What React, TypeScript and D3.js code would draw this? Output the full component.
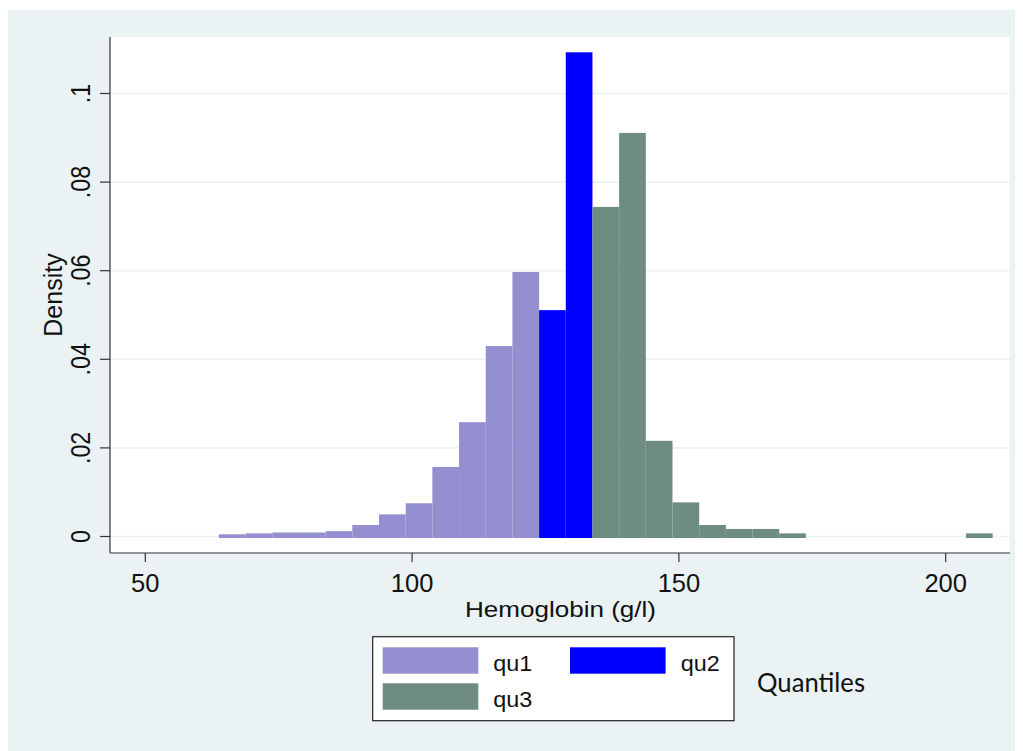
import * as d3 from "d3";

// histogram of hemoglobin, bins of 5 g/l starting at 63.8
const binStart = 63.8;
const binWidth = 5.0;
const densities = [
  0.0005, 0.0007, 0.0009, 0.0009, 0.0012, 0.0026, 0.005, 0.0075, 0.0157, 0.0258,
  0.043, 0.0597, 0.0511, 0.1093, 0.0744, 0.0911, 0.0216, 0.0077, 0.0026, 0.0017,
  0.0017, 0.0007, 0, 0, 0, 0, 0, 0, 0.0007,
];
const groups = [
  "qu1", "qu1", "qu1", "qu1", "qu1", "qu1", "qu1", "qu1", "qu1", "qu1",
  "qu1", "qu1", "qu2", "qu2", "qu3", "qu3", "qu3", "qu3", "qu3", "qu3",
  "qu3", "qu3", "qu3", "qu3", "qu3", "qu3", "qu3", "qu3", "qu3",
];
const quantiles = ["qu1", "qu2", "qu3"];
const quantileColors = ["#948fd0", "#0000ff", "#6e8c80"];
const xTicks = [50, 100, 150, 200];
const yTicks = [0, 0.02, 0.04, 0.06, 0.08, 0.1];
const yTickLabels = ["0", ".02", ".04", ".06", ".08", ".1"];

const W = 1015;
const H = 743;
const bg = "#eaf2f3";
const axisFont = "'Liberation Sans', Arial, sans-serif";

export default function App() {
  // svg sits at (8,8) because of body margin
  const plot = { left: 102, right: 1002, top: 29, bottom: 545 };
  const x = d3.scaleLinear().domain([50, 200]).range([137.3, 937.7]);
  const y = d3.scaleLinear().domain([0, 0.1]).range([528.5, 85.5]);
  const color = d3.scaleOrdinal<string, string>().domain(quantiles).range(quantileColors);

  const bins = densities.map((d, i) => ({
    x0: binStart + i * binWidth,
    x1: binStart + (i + 1) * binWidth,
    d,
    g: groups[i],
  }));

  const legend = { x: 364.7, y: 628.7, w: 361.3, h: 84 };
  const sw = { w: 95.6, h: 26.4 };
  const legendItems = [
    { g: "qu1", sx: 374.7, sy: 639.3, tx: 485.3 },
    { g: "qu2", sx: 562, sy: 639.3, tx: 672.7 },
    { g: "qu3", sx: 374.7, sy: 675.3, tx: 485.3 },
  ];

  return (
    <svg width={W} height={H} style={{ display: "block" }}>
      <rect x={0} y={2} width={W} height={H - 2} fill={bg} />
      <rect x={plot.left} y={plot.top} width={plot.right - plot.left} height={plot.bottom - plot.top} fill="#fff" />

      {/* gridlines */}
      {yTicks.map((t) => (
        <line key={"g" + t} x1={plot.left} x2={plot.right} y1={y(t)} y2={y(t)} stroke={bg} strokeWidth={1.6} />
      ))}

      {/* bars */}
      {bins.filter((b) => b.d > 0).map((b, i) => (
        <rect
          key={i}
          x={x(b.x0)}
          y={y(b.d)}
          width={x(b.x1) - x(b.x0)}
          height={y(0) - y(b.d) + 1.5}
          fill={color(b.g)}
        />
      ))}

      {/* axes */}
      <line x1={plot.left} x2={plot.left} y1={plot.top} y2={plot.bottom} stroke="#333" strokeWidth={1.2} />
      <line x1={plot.left} x2={plot.right} y1={plot.bottom} y2={plot.bottom} stroke="#333" strokeWidth={1.2} />

      {yTicks.map((t, i) => (
        <g key={"y" + t}>
          <line x1={plot.left - 10} x2={plot.left} y1={y(t)} y2={y(t)} stroke="#333" strokeWidth={1.2} />
          <text
            transform={`translate(${82},${y(t)}) rotate(-90) scale(0.83,1)`}
            textAnchor="middle"
            fontFamily={axisFont}
            fontSize={28}
            fill="#111"
          >
            {yTickLabels[i]}
          </text>
        </g>
      ))}
      <text
        transform={`translate(${53.5},${(plot.top + plot.bottom) / 2}) rotate(-90)`}
        textAnchor="middle"
        fontFamily={axisFont}
        fontSize={25}
        fill="#111"
      >
        Density
      </text>

      {xTicks.map((t) => (
        <g key={"x" + t}>
          <line x1={x(t)} x2={x(t)} y1={plot.bottom} y2={plot.bottom + 9} stroke="#333" strokeWidth={1.2} />
          <text x={x(t)} y={plot.bottom + 39.3} textAnchor="middle" fontFamily={axisFont} fontSize={25.5} fill="#111">
            {t}
          </text>
        </g>
      ))}
      <text
        x={552.5}
        y={608.7}
        textAnchor="middle"
        textLength={191}
        lengthAdjust="spacingAndGlyphs"
        fontFamily={axisFont}
        fontSize={21.5}
        fill="#111"
      >
        Hemoglobin (g/l)
      </text>

      {/* legend */}
      <rect x={legend.x} y={legend.y} width={legend.w} height={legend.h} fill="#fff" stroke="#222" strokeWidth={1.2} />
      {legendItems.map((it) => (
        <g key={it.g}>
          <rect x={it.sx} y={it.sy} width={sw.w} height={sw.h} fill={color(it.g)} />
          <text
            x={it.tx}
            y={it.sy + sw.h / 2 + 10.5}
            textLength={39}
            lengthAdjust="spacingAndGlyphs"
            fontFamily={axisFont}
            fontSize={21.5}
            fill="#111"
          >
            {it.g}
          </text>
        </g>
      ))}
      <text
        x={749}
        y={683.7}
        textLength={108}
        lengthAdjust="spacingAndGlyphs"
        fontFamily="Lato, 'Open Sans', sans-serif"
        fontSize={26.5}
        fill="#111"
      >
        Quantiles
      </text>
    </svg>
  );
}
